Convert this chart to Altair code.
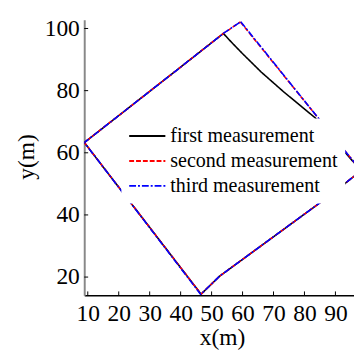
import altair as alt
import pandas as pd

series = ["first measurement", "second measurement", "third measurement"]

# first measurement (black)
x1 = [53.8, 56.5, 59.8, 66.0, 73.3, 83.4, 98.3, 86.5, 52.6, 46.6, 8.9, 39.0, 53.8]
y1 = [98.4, 95.5, 92.1, 86.0, 79.6, 71.3, 54.2, 45.0, 20.3, 14.5, 63.3, 86.8, 98.4]
# second measurement (red)
x2 = [59.3, 84.5, 98.3, 86.5, 52.6, 46.6, 8.9, 39.0, 53.8, 59.3]
y2 = [102.1, 71.1, 54.2, 45.0, 20.3, 14.5, 63.3, 86.8, 98.4, 102.1]
# third measurement (blue)
x3 = [59.4, 84.6, 98.3, 86.5, 52.6, 46.5, 8.9, 39.0, 53.8, 59.4]
y3 = [102.2, 71.0, 54.2, 45.0, 20.3, 14.4, 63.3, 86.8, 98.4, 102.2]

x_ticks = [10, 20, 30, 40, 50, 60, 70, 80, 90]
y_ticks = [20, 40, 60, 80, 100]

rows = []
for name, xs, ys in zip(series, [x1, x2, x3], [y1, y2, y3]):
    for i, (a, b) in enumerate(zip(xs, ys)):
        rows.append({"series": name, "x": a, "y": b, "i": i})
df = pd.DataFrame(rows)

FONT = "Liberation Serif"
xscale = alt.Scale(domain=[8.86, 96], nice=False, zero=False)
yscale = alt.Scale(domain=[14.12, 102.83], nice=False, zero=False)

xaxis = alt.Axis(values=x_ticks, title="x(m)", grid=False, ticks=False, tickSize=0,
                 domainColor="black", domainWidth=1.5, labelOverlap=False,
                 labelFont=FONT, labelFontSize=24, labelColor="black", labelPadding=7,
                 titleFont=FONT, titleFontSize=24, titleFontWeight="normal", titleColor="black",
                 titleX=141, titleY=50, titleBaseline="alphabetic")
yaxis = alt.Axis(values=y_ticks, title="y(m)", grid=False, ticks=False, tickSize=0,
                 domainColor="#888888", domainWidth=2, labelOverlap=False,
                 labelFont=FONT, labelFontSize=24, labelColor="black", labelPadding=5,
                 titleFont=FONT, titleFontSize=24, titleFontWeight="normal", titleColor="black",
                 titleX=-52, titleY=140, titleBaseline="alphabetic")

legend_kw = dict(title=None, orient="none", legendX=38, legendY=101,
                 fillColor="white", padding=7, symbolType="stroke",
                 symbolSize=1369, symbolStrokeWidth=2, labelOffset=4,
                 labelFont=FONT, labelFontSize=20.5, labelColor="black",
                 clipHeight=22, rowPadding=3.5, labelLimit=400)

lines = alt.Chart(df).mark_line(clip=True, strokeWidth=1.6).encode(
    x=alt.X("x:Q", scale=xscale, axis=xaxis),
    y=alt.Y("y:Q", scale=yscale, axis=yaxis),
    color=alt.Color("series:N", sort=series,
                    scale=alt.Scale(domain=series, range=["black", "red", "blue"]),
                    legend=alt.Legend(**legend_kw)),
    strokeDash=alt.StrokeDash("series:N", sort=series,
                              scale=alt.Scale(domain=series, range=[[1, 0], [5, 2], [7, 2, 2, 2]]),
                              legend=alt.Legend(**legend_kw)),
    order="i:Q",
)

xt = alt.Chart(pd.DataFrame({"x": x_ticks})).mark_rule(color="black", strokeWidth=1).encode(
    x=alt.X("x:Q", scale=xscale, axis=xaxis), y=alt.value(282), y2=alt.value(278))
yt = alt.Chart(pd.DataFrame({"y": y_ticks})).mark_rule(color="black", strokeWidth=1).encode(
    y=alt.Y("y:Q", scale=yscale, axis=yaxis), x=alt.value(0), x2=alt.value(4))

chart = alt.layer(lines, xt, yt).properties(
    width=276, height=282,
    autosize=alt.AutoSizeParams(type="none"),
    padding={"left": 78, "top": 8, "right": 0, "bottom": 54},
).configure_view(stroke=None)

chart.save("out.html", embed_options={"renderer": "svg", "actions": False})
